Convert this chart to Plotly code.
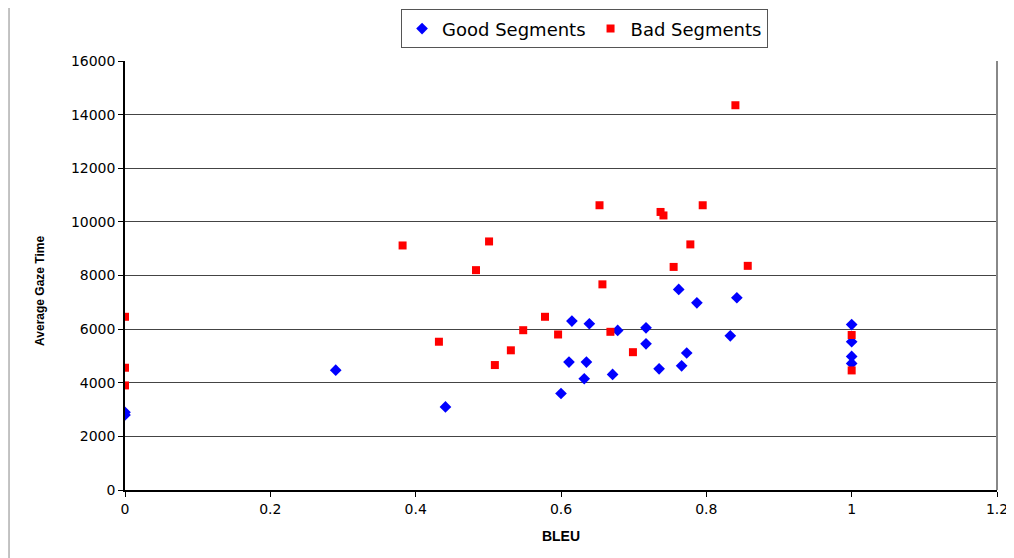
import plotly.graph_objects as go

good_x = [0.0, 0.0, 0.290, 0.441, 0.762, 0.787, 0.842, 0.615, 0.639, 0.678, 0.717, 0.833,
          0.717, 0.773, 0.611, 0.635, 0.632, 0.671, 0.735, 0.766, 0.600, 1.0, 1.0, 1.0, 1.0]
good_y = [2900, 2800, 4470, 3100, 7480, 6980, 7170, 6300, 6200, 5950, 6050, 5750,
          5450, 5110, 4770, 4770, 4150, 4310, 4520, 4630, 3600, 6170, 5530, 4980, 4720]

bad_x = [0.382, 0.483, 0.501, 0.840, 0.653, 0.737, 0.741, 0.795, 0.778, 0.755, 0.857, 0.657,
         0.0, 0.0, 0.0, 0.432, 0.509, 0.531, 0.548, 0.578, 0.596, 0.668, 0.699, 1.0, 1.0]
bad_y = [9120, 8200, 9270, 14350, 10620, 10370, 10240, 10620, 9160, 8320, 8360, 7670,
         6460, 4560, 3900, 5530, 4660, 5210, 5960, 6460, 5800, 5900, 5140, 5780, 4460]

x_ticks = [0, 0.2, 0.4, 0.6, 0.8, 1, 1.2]
x_tick_labels = ["0", "0.2", "0.4", "0.6", "0.8", "1", "1.2"]
y_ticks = [0, 2000, 4000, 6000, 8000, 10000, 12000, 14000, 16000]
y_tick_labels = ["0", "2000", "4000", "6000", "8000", "10000", "12000", "14000", "16000"]

fig = go.Figure()
fig.add_trace(go.Scatter(x=good_x, y=good_y, mode="markers", name="Good Segments",
                         marker=dict(symbol="diamond", size=9, color="#0000FF")))
fig.add_trace(go.Scatter(x=bad_x, y=bad_y, mode="markers", name="Bad Segments",
                         marker=dict(symbol="square", size=8, color="#FF0000")))

fig.update_layout(
    width=1006, height=550,
    margin=dict(l=117, r=17, t=53, b=68, autoexpand=False),
    paper_bgcolor="white", plot_bgcolor="white",
    font=dict(family="DejaVu Sans, Liberation Sans, Arial", size=14, color="black"),
    legend=dict(orientation="h", x=0.527, xanchor="center", y=1.075, yanchor="middle",
                bordercolor="#555555", borderwidth=1, bgcolor="white",
                font=dict(family="DejaVu Sans, Arial", size=18),
                tracegroupgap=0, itemwidth=30),
    xaxis=dict(range=[0, 1.2], tickvals=x_ticks, ticktext=x_tick_labels,
               showgrid=False, zeroline=False, showline=True, linecolor="black", linewidth=1.5,
               ticks="outside", ticklen=5, tickcolor="black",
               title=dict(text="<b>BLEU</b>", font=dict(family="Liberation Sans, Arial", size=14), standoff=16)),
    yaxis=dict(range=[0, 16000], tickvals=y_ticks, ticktext=y_tick_labels,
               showgrid=True, gridcolor="#444444", gridwidth=1, zeroline=False,
               showline=True, linecolor="black", linewidth=1.5,
               ticks="outside", ticklen=5, tickcolor="black"),
    showlegend=True,
)
fig.add_annotation(text="<b>Average Gaze Time</b>", textangle=-90, xref="paper", yref="paper",
                   x=-0.0975, y=0.464, xanchor="center", yanchor="middle", showarrow=False,
                   font=dict(family="Liberation Sans, Arial", size=12, color="black"))
# right border of plot area
fig.add_shape(type="line", xref="x domain", yref="y domain", x0=1, x1=1, y0=0, y1=1,
              line=dict(color="#888888", width=2))
# left page border line
fig.add_shape(type="line", xref="paper", yref="paper", x0=-0.133, x1=-0.133, y0=-0.16, y1=1.13,
              line=dict(color="#888888", width=1))

fig.write_html("out.html")
